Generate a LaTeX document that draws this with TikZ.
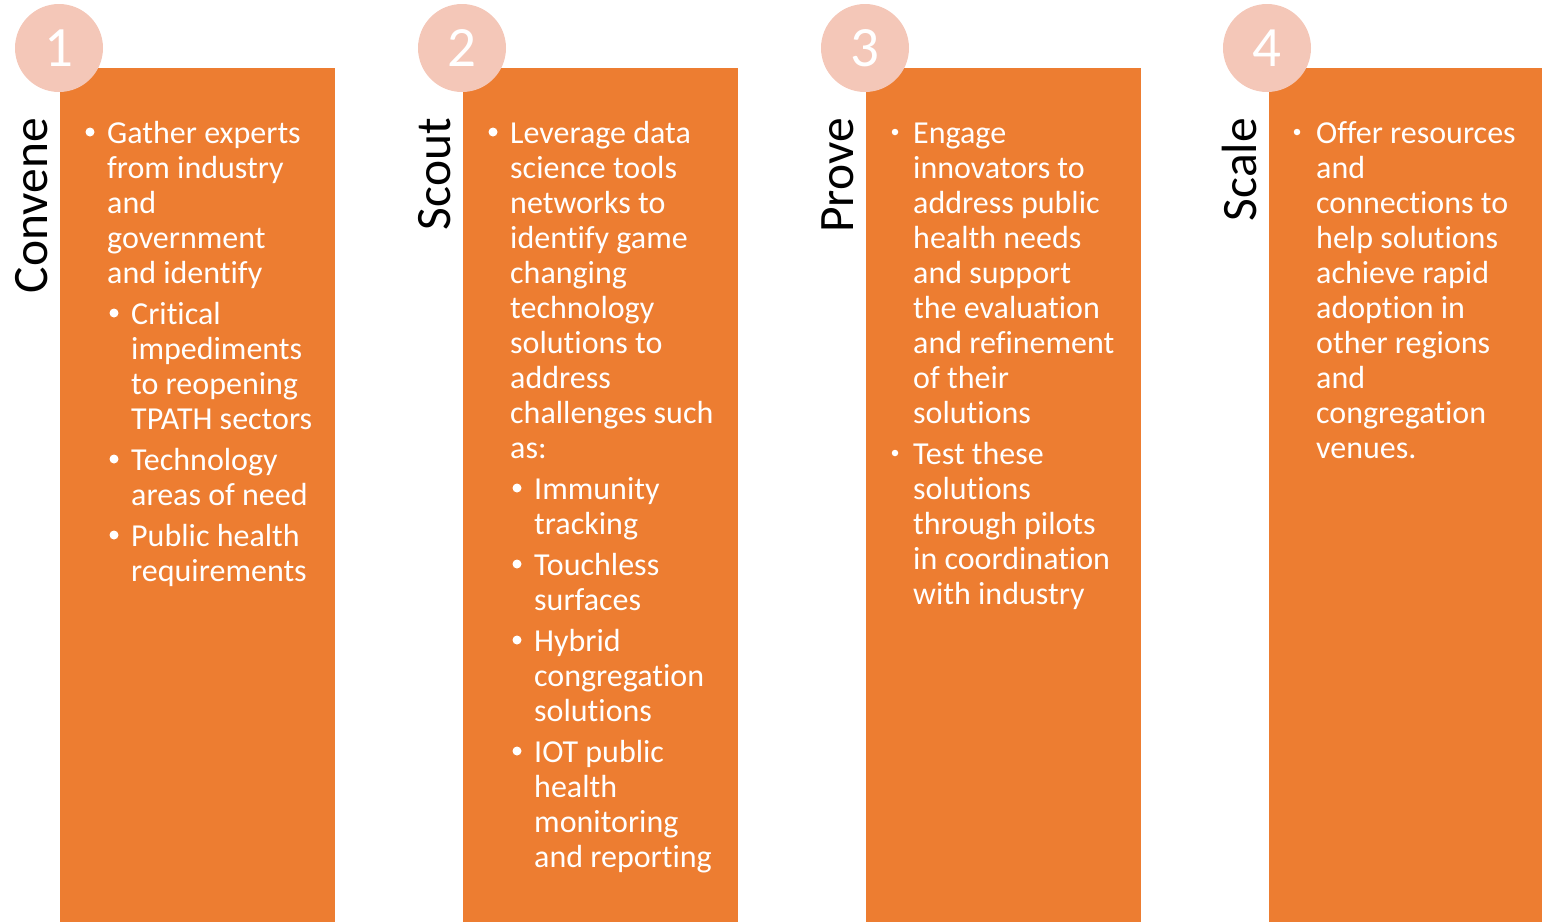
\documentclass[tikz,border=0pt]{standalone}
\usepackage{fontspec}
\setmainfont{Carlito}[Ligatures=NoCommon]
\definecolor{orng}{HTML}{ED7D31}
\definecolor{pinkc}{HTML}{F4C7B8}
\begin{document}
\begin{tikzpicture}[x=1pt,y=-1pt,
  panel/.style={fill=orng, draw=none},
  badge/.style={circle, fill=pinkc, minimum size=88pt, inner sep=0pt, text=white, font=\fontsize{57}{60}\selectfont},
  stage/.style={rotate=90, anchor=base east, font=\fontsize{49.5}{50}\selectfont, inner sep=0pt},
  item/.style={anchor=base west, inner sep=0pt, text=white, align=left, font=\fontsize{32}{35}\selectfont},
  bigdot/.style={circle, fill=white, inner sep=0pt, minimum size=9pt},
  smalldot/.style={circle, fill=white, inner sep=0pt, minimum size=6.5pt},
  ]
\useasboundingbox (0,0) rectangle (1542,922);
% panels
\fill[panel] (60,68) rectangle (335,922);
\fill[panel] (463,68) rectangle (738,922);
\fill[panel] (866,68) rectangle (1141,922);
\fill[panel] (1269,68) rectangle (1542,922);
% badges
\node[badge] (b1) at (59,48) {1};
\node[badge] (b2) at (462,48) {2};
\node[badge] (b3) at (865,48) {3};
\node[badge] (b4) at (1267,48) {4};
% stage labels
\node[stage] (s1) at (47,118) {Convene};
\node[stage] (s2) at (450,118) {Scout};
\node[stage] (s3) at (853,118) {Prove};
\node[stage] (s4) at (1256,118) {Scale};
% column 1 (node base = last line's baseline)
\node[bigdot] (d1a) at (90,132) {};
\node[item] (t1a) at (107,283) {Gather experts\\from industry\\and\\government\\and identify};
\node[bigdot] (d1b) at (114,313) {};
\node[item] (t1b) at (131,429) {Critical\\impediments\\to reopening\\TPATH sectors};
\node[bigdot] (d1c) at (114,459) {};
\node[item] (t1c) at (131,505) {Technology\\areas of need};
\node[bigdot] (d1d) at (114,535) {};
\node[item] (t1d) at (131,581) {Public health\\requirements};
% column 2
\node[bigdot] (d2a) at (493,132) {};
\node[item] (t2a) at (510,458) {Leverage data\\science tools\\networks to\\identify game\\changing\\technology\\solutions to\\address\\challenges such\\as:};
\node[bigdot] (d2b) at (517,488) {};
\node[item] (t2b) at (534,534) {Immunity\\tracking};
\node[bigdot] (d2c) at (517,564) {};
\node[item] (t2c) at (534,610) {Touchless\\surfaces};
\node[bigdot] (d2d) at (517,640) {};
\node[item] (t2d) at (534,721) {Hybrid\\congregation\\solutions};
\node[bigdot] (d2e) at (517,751) {};
\node[item] (t2e) at (534,867) {IOT public\\health\\monitoring\\and reporting};
% column 3
\node[smalldot] (d3a) at (895,132) {};
\node[item] (t3a) at (913,423) {Engage\\innovators to\\address public\\health needs\\and support\\the evaluation\\and refinement\\of their\\solutions};
\node[smalldot] (d3b) at (895,453) {};
\node[item] (t3b) at (913,604) {Test these\\solutions\\through pilots\\in coordination\\with industry};
% column 4
\node[smalldot] (d4a) at (1297,132) {};
\node[item] (t4a) at (1316,458) {Offer resources\\and\\connections to\\help solutions\\achieve rapid\\adoption in\\other regions\\and\\congregation\\venues.};
\end{tikzpicture}
\end{document}
